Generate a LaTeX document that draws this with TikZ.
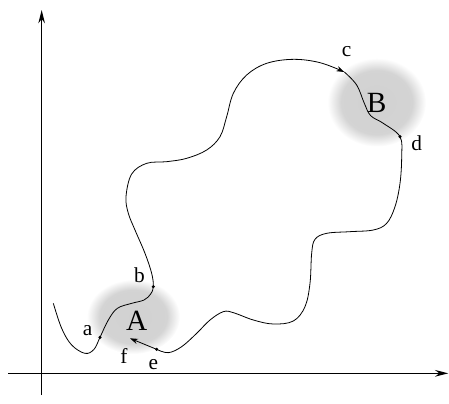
\documentclass[tikz,border=0pt]{standalone}
\usepackage{fontspec}
\setmainfont{Liberation Serif}
\usetikzlibrary{arrows.meta}
\pgfdeclareradialshading{blob}{\pgfpoint{0bp}{0bp}}{color(0bp)=(gray!36); color(18bp)=(gray!34); color(25bp)=(white); color(50bp)=(white)}
\begin{document}
\begin{tikzpicture}[x=0.25pt,y=-0.25pt,
  curve/.style={line width=0.6pt},
  axis/.style={line width=0.9pt,-{Stealth[length=10pt,width=5pt]}},
  pt/.style={circle,fill,inner sep=0pt,minimum size=2.6pt},
  lbl/.style={font=\fontsize{16}{16}\selectfont, inner sep=0pt},
  big/.style={font=\fontsize{22}{22}\selectfont, inner sep=0pt}]
\useasboundingbox (0,0) rectangle (1347,1209);
% grey regions
\shade[shading=blob] (400,950) ellipse [x radius=140, y radius=112];
\shade[shading=blob] (1130,307) ellipse [x radius=148, y radius=133];
% axes
\coordinate (y0) at (125,1185);
\coordinate (y1) at (125,30);
\coordinate (x0) at (25,1120);
\coordinate (x1) at (1345,1120);
\draw[axis] (y0) -- (y1);
\draw[axis] (x0) -- (x1);
% key points
\coordinate (a) at (300,1012);
\coordinate (b) at (460,860);
\coordinate (c) at (1033,216);
\coordinate (d) at (1200,410);
\coordinate (e) at (470,1048);
\coordinate (f) at (390,1015);
% curve
\draw[curve,-{Stealth[length=6pt,width=4pt]}] plot[smooth,tension=0.6] coordinates {
 (160,910) (185,985) (215,1035) (255,1060) (282,1048) (a) (325,960) (352,925)
 (395,910) (432,900) (452,882) (b) (455,820) (435,760) (405,690) (385,640)
 (378,590) (395,522) (440,490) (500,485) (560,475) (620,450) (660,410)
 (680,350) (700,280) (740,225) (800,190) (880,178) (960,188) (c)};
\draw[curve] plot[smooth,tension=0.6] coordinates {
 (c) (1070,255) (1093,310) (1112,347) (1150,370) (d) (1205,470) (1200,550)
 (1185,620) (1160,670) (1120,690) (1050,695) (980,700) (945,718) (935,760)
 (930,850) (915,920) (880,963) (820,972) (760,960) (700,938) (670,935)
 (630,960) (590,1000) (545,1040) (505,1058) (e)};
\draw[curve,-{Stealth[length=6pt,width=4pt]}] (e) -- (f);
% dots
\node[pt] (da) at (a) {};
\node[pt] (db) at (b) {};
\node[pt] (dd) at (d) {};
\node[pt] (de) at (e) {};
% labels
\node[lbl] (la) at (263,993) {a};
\node[lbl] (lb) at (418,825) {b};
\node[lbl] (lc) at (1040,155) {c};
\node[lbl] (ld) at (1250,430) {d};
\node[lbl] (le) at (460,1095) {e};
\node[lbl] (lf) at (372,1068) {f};
\node[big] (lA) at (410,962) {A};
\node[big] (lB) at (1130,310) {B};
\end{tikzpicture}
\end{document}
